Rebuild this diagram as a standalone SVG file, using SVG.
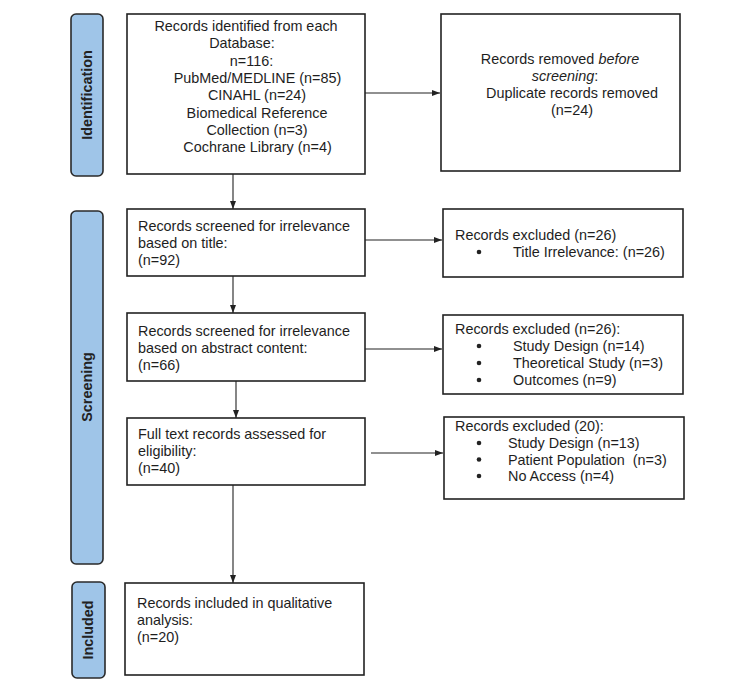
<svg xmlns="http://www.w3.org/2000/svg" width="750" height="685" viewBox="0 0 750 685">
<defs>
<marker id="ah" markerWidth="8" markerHeight="6" refX="8" refY="3" orient="auto" markerUnits="userSpaceOnUse">
<path d="M0,0 L8,3 L0,6 z" fill="#222"/>
</marker>
<style>
.box{fill:#fff;stroke:#222;stroke-width:1.6}
.bar{fill:#9fc5e8;stroke:#2a2a2a;stroke-width:1.6}
.t{font-family:"Liberation Sans",Arial,sans-serif;font-size:14.4px;fill:#1e1e1e}
.c{text-anchor:middle}
.lab{font-family:"Liberation Sans",Arial,sans-serif;font-size:14.4px;font-weight:bold;fill:#222;text-anchor:middle}
.con{stroke:#222;stroke-width:1.1;fill:none;marker-end:url(#ah)}
.bul{fill:#222}
</style>
</defs>
<rect width="750" height="685" fill="#fff"/>

<g id="phase-identification">
<rect class="bar" x="71" y="14" width="32" height="162" rx="5"/>
<text class="lab" transform="translate(92,95) rotate(-90)">Identification</text>
</g>
<g id="phase-screening">
<rect class="bar" x="71" y="211" width="32" height="353" rx="5"/>
<text class="lab" transform="translate(92,387) rotate(-90)">Screening</text>
</g>
<g id="phase-included">
<rect class="bar" x="72" y="582" width="33" height="96" rx="5"/>
<text class="lab" transform="translate(93,630) rotate(-90)">Included</text>
</g>

<g id="identified">
<rect class="box" x="127" y="14" width="238" height="160"/>
<text class="t c" x="246" y="31">Records identified from each</text>
<text class="t c" x="242" y="48.3">Database:</text>
<text class="t c" x="251.5" y="65.6">n=116:</text>
<text class="t c" x="257.5" y="82.9">PubMed/MEDLINE (n=85)</text>
<text class="t c" x="257" y="100.2">CINAHL (n=24)</text>
<text class="t c" x="257" y="117.5">Biomedical Reference</text>
<text class="t c" x="257" y="134.8">Collection (n=3)</text>
<text class="t c" x="257.5" y="152">Cochrane Library (n=4)</text>
</g>

<g id="removed">
<rect class="box" x="441" y="14" width="239" height="157"/>
<text class="t c" x="560" y="64">Records removed <tspan font-style="italic">before</tspan></text>
<text class="t c" x="565" y="81"><tspan font-style="italic">screening</tspan>:</text>
<text class="t c" x="572" y="98">Duplicate records removed</text>
<text class="t c" x="572" y="115">(n=24)</text>
</g>

<g id="screened-title">
<rect class="box" x="127" y="209" width="238" height="67"/>
<text class="t" x="138" y="231">Records screened for irrelevance</text>
<text class="t" x="138" y="248">based on title:</text>
<text class="t" x="138" y="265">(n=92)</text>
</g>

<g id="excluded-title">
<rect class="box" x="443" y="209" width="240" height="68"/>
<text class="t" x="455" y="240">Records excluded (n=26)</text>
<circle class="bul" cx="479" cy="252" r="2.3"/>
<text class="t" x="513" y="257">Title Irrelevance: (n=26)</text>
</g>

<g id="screened-abstract">
<rect class="box" x="127" y="313" width="238" height="68"/>
<text class="t" x="138" y="336">Records screened for irrelevance</text>
<text class="t" x="138" y="353">based on abstract content:</text>
<text class="t" x="138" y="370">(n=66)</text>
</g>

<g id="excluded-abstract">
<rect class="box" x="443" y="315" width="240" height="79"/>
<text class="t" x="455" y="334">Records excluded (n=26):</text>
<circle class="bul" cx="479" cy="346" r="2.3"/>
<text class="t" x="513" y="351">Study Design (n=14)</text>
<circle class="bul" cx="479" cy="363" r="2.3"/>
<text class="t" x="513" y="368">Theoretical Study (n=3)</text>
<circle class="bul" cx="479" cy="380" r="2.3"/>
<text class="t" x="513" y="385">Outcomes (n=9)</text>
</g>

<g id="full-text">
<rect class="box" x="127" y="418" width="238" height="67"/>
<text class="t" x="138" y="439">Full text records assessed for</text>
<text class="t" x="138" y="456">eligibility:</text>
<text class="t" x="138" y="473">(n=40)</text>
</g>

<g id="excluded-full-text">
<rect class="box" x="444" y="417" width="240" height="82"/>
<text class="t" x="455" y="431">Records excluded (20):</text>
<circle class="bul" cx="479" cy="443" r="2.3"/>
<text class="t" x="508" y="448">Study Design (n=13)</text>
<circle class="bul" cx="479" cy="459.5" r="2.3"/>
<text class="t" x="508" y="464.5">Patient Population &#160;(n=3)</text>
<circle class="bul" cx="479" cy="476" r="2.3"/>
<text class="t" x="508" y="481">No Access (n=4)</text>
</g>

<g id="included">
<rect class="box" x="125" y="583" width="239" height="92"/>
<text class="t" x="137" y="608">Records included in qualitative</text>
<text class="t" x="137" y="625">analysis:</text>
<text class="t" x="137" y="642">(n=20)</text>
</g>

<g id="connectors">
<line class="con" x1="365" y1="93" x2="440" y2="93"/>
<line class="con" x1="233" y1="174" x2="233" y2="209"/>
<line class="con" x1="365" y1="240" x2="442" y2="240"/>
<line class="con" x1="233" y1="276" x2="233" y2="313"/>
<line class="con" x1="365" y1="349" x2="442" y2="349"/>
<line class="con" x1="236" y1="381" x2="236" y2="418"/>
<line class="con" x1="371" y1="453" x2="443" y2="453"/>
<line class="con" x1="233" y1="485" x2="233" y2="583"/>
</g>
</svg>
